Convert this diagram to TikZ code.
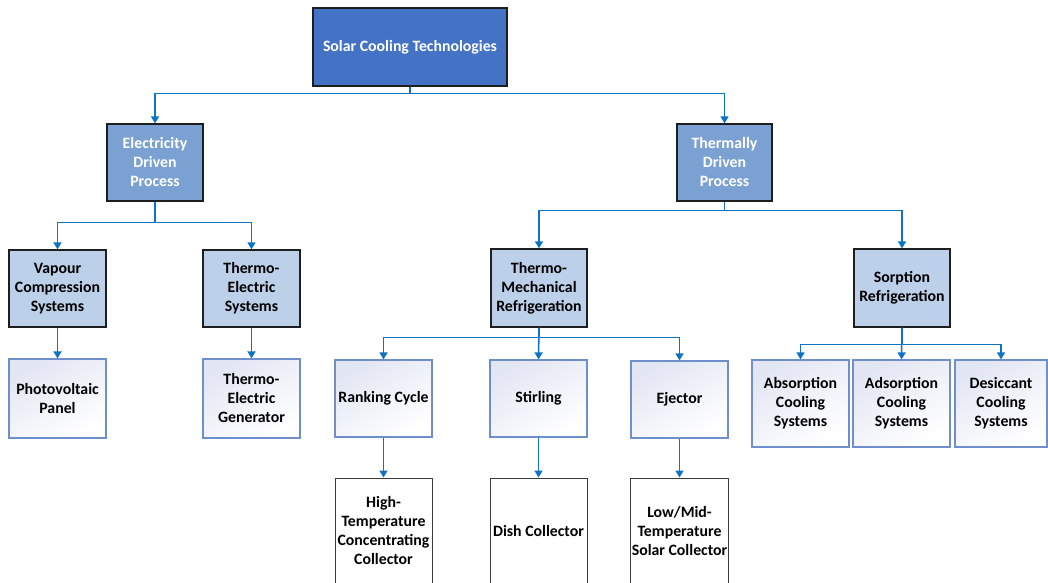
\documentclass[tikz,border=0pt]{standalone}
\usepackage{fontspec}
\setmainfont{Carlito}
\usetikzlibrary{arrows.meta}
\definecolor{topblue}{HTML}{4472C4}
\definecolor{midblue}{HTML}{7BA1D2}
\definecolor{lightblue}{HTML}{BDD0EA}
\definecolor{gradtop}{HTML}{E2E6F3}
\definecolor{gradedge}{HTML}{6E8FCC}
\definecolor{connblue}{HTML}{0F73C4}
\definecolor{boxedge}{HTML}{1E1E1E}
\definecolor{greyedge}{HTML}{3A3A3A}
\tikzset{
  base/.style={rectangle, align=center, font=\fontsize{15.8}{19}\selectfont\bfseries, inner sep=1pt},
  rootbox/.style={base, fill=topblue, draw=boxedge, line width=1.3pt, text=white},
  catbox/.style={base, fill=midblue, draw=boxedge, line width=1.3pt, text=white},
  subbox/.style={base, fill=lightblue, draw=boxedge, line width=1.3pt, text=black},
  techbox/.style={base, top color=gradtop, bottom color=white, shading angle=30, draw=gradedge, line width=1.2pt, text=black},
  colbox/.style={base, fill=white, draw=greyedge, line width=1pt, text=black},
  conn/.style={draw=connblue, line width=1.5pt, -{Triangle[width=8pt,length=7pt]}},
}
\begin{document}
\begin{tikzpicture}[x=1pt, y=-1pt]
\clip (0,0) rectangle (1048,582);
\fill[white] (0,0) rectangle (1048,582);

% root
\node[rootbox, minimum width=194pt, minimum height=78pt] (root) at (410,47) {Solar Cooling Technologies};

% categories
\node[catbox, minimum width=96pt, minimum height=77pt] (elec) at (155,162.5) {Electricity\\Driven\\Process};
\node[catbox, minimum width=95pt, minimum height=77pt] (therm) at (724.5,162.5) {Thermally\\Driven\\Process};

% sub-categories
\node[subbox, minimum width=97pt, minimum height=77pt] (vap) at (57.5,288.5) {Vapour\\Compression\\Systems};
\node[subbox, minimum width=97pt, minimum height=77pt] (tes) at (251.5,288.5) {Thermo-\\Electric\\Systems};
\node[subbox, minimum width=96pt, minimum height=78pt] (tmr) at (539,288) {Thermo-\\Mechanical\\Refrigeration};
\node[subbox, minimum width=96pt, minimum height=78pt] (sorp) at (902,288) {Sorption\\Refrigeration};

% technologies
\node[techbox, minimum width=97pt, minimum height=79pt] (pv) at (57.5,398.5) {Photovoltaic\\Panel};
\node[techbox, minimum width=97pt, minimum height=79pt] (teg) at (251.5,398.5) {Thermo-\\Electric\\Generator};
\node[techbox, minimum width=97pt, minimum height=77pt] (rank) at (383.5,398.5) {Ranking Cycle};
\node[techbox, minimum width=97pt, minimum height=77pt] (stir) at (538.5,398.5) {Stirling};
\node[techbox, minimum width=97pt, minimum height=77pt] (ejec) at (679.5,399.5) {Ejector};
\node[techbox, minimum width=97pt, minimum height=87pt] (absc) at (800.5,403.5) {Absorption\\Cooling\\Systems};
\node[techbox, minimum width=97pt, minimum height=87pt] (adsc) at (901.5,403.5) {Adsorption\\Cooling\\Systems};
\node[techbox, minimum width=92pt, minimum height=87pt] (desc) at (1001,403.5) {Desiccant\\Cooling\\Systems};

% collectors
\node[colbox, minimum width=97pt, minimum height=106pt] (htc) at (383.5,531) {High-\\Temperature\\Concentrating\\Collector};
\node[colbox, minimum width=97pt, minimum height=106pt] (dish) at (538.5,531) {Dish Collector};
\node[colbox, minimum width=97pt, minimum height=106pt] (lmc) at (679.5,531) {Low/Mid-\\Temperature\\Solar Collector};

% connectors
\draw[conn] (root.south) -- ++(0,7) -| (elec.north);
\draw[conn] (root.south) -- ++(0,7) -| (therm.north);

\draw[conn] (elec.south) -- ++(0,21) -| (vap.north);
\draw[conn] (elec.south) -- ++(0,21) -| (tes.north);

\draw[conn] (therm.south) -- ++(0,9) -| (tmr.north);
\draw[conn] (therm.south) -- ++(0,9) -| (sorp.north);

\draw[conn] (vap.south) -- (pv.north);
\draw[conn] (tes.south) -- (teg.north);

\draw[conn] (tmr.south) -- ++(0,10) -| (rank.north);
\draw[conn] (tmr.south) -- (stir.north);
\draw[conn] (tmr.south) -- ++(0,10) -| (ejec.north);

\draw[conn] (sorp.south) -- ++(0,17) -| (absc.north);
\draw[conn] (sorp.south) -- (adsc.north);
\draw[conn] (sorp.south) -- ++(0,17) -| (desc.north);

\draw[conn] (rank.south) -- (htc.north);
\draw[conn] (stir.south) -- (dish.north);
\draw[conn] (ejec.south) -- (lmc.north);
\end{tikzpicture}
\end{document}
